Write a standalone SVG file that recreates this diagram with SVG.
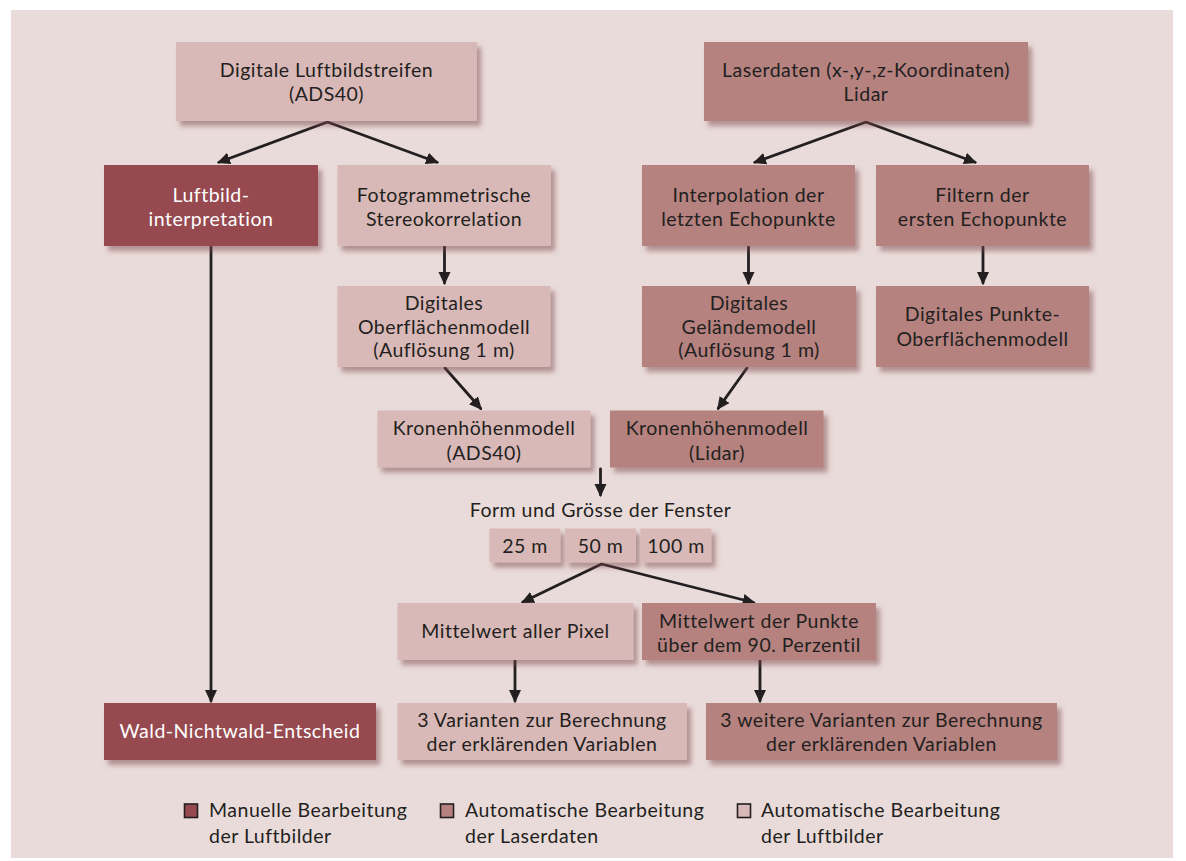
<svg xmlns="http://www.w3.org/2000/svg" width="1186" height="861" viewBox="0 0 1186 861">
<style>
  text { font-family: Lato, "Open Sans", "Liberation Sans", sans-serif; font-size: 19.5px; letter-spacing: 0.5px; fill: #231f20; text-anchor: middle; }
  .w { fill: #ffffff; }
  .lg { text-anchor: start; }
  .light { fill: #d9b9b7; }
  .med { fill: #b5827f; }
  .dark { fill: #964a50; }
  .box { filter: url(#sh); }
  .c line { stroke: #231f20; stroke-width: 2.8; stroke-linecap: round; marker-end: url(#ah); }
  .sq { stroke: #231f20; stroke-width: 1.6; }
</style>
<defs>
  <filter id="sh" x="-10%" y="-20%" width="130%" height="150%">
    <feDropShadow dx="4" dy="5" stdDeviation="2.5" flood-color="#7a4548" flood-opacity="0.5"/>
  </filter>
  <marker id="ah" markerUnits="userSpaceOnUse" markerWidth="14" markerHeight="14" viewBox="0 0 14 14" refX="11" refY="7" orient="auto">
    <path d="M0,1 L13,7 L0,13 Z" fill="#231f20"/>
  </marker>
</defs>
<rect x="0" y="0" width="1186" height="861" fill="#ffffff"/>
<rect x="11" y="10" width="1162" height="848" fill="#e9dbd9"/>

<g id="connectors" class="c">
  <line x1="327.5" y1="122" x2="218.9" y2="162.3"/>
  <line x1="327.5" y1="122" x2="437.1" y2="162.3"/>
  <line x1="866" y1="122" x2="754.9" y2="162.3"/>
  <line x1="866" y1="122" x2="975.1" y2="162.3"/>
  <line x1="211" y1="247" x2="211" y2="701"/>
  <line x1="444.5" y1="247" x2="444.5" y2="283"/>
  <line x1="748.5" y1="247" x2="748.5" y2="283"/>
  <line x1="983" y1="247" x2="983" y2="283"/>
  <line x1="445" y1="368" x2="480.7" y2="408.5"/>
  <line x1="747" y1="368" x2="718.2" y2="408.4"/>
  <line x1="600.5" y1="469" x2="600.5" y2="495"/>
  <line x1="601.5" y1="564" x2="522.8" y2="602.1"/>
  <line x1="601.5" y1="564" x2="753.7" y2="602.5"/>
  <line x1="515" y1="660" x2="515" y2="701"/>
  <line x1="760" y1="660" x2="760" y2="701"/>
</g>

<g id="n-luftbildstreifen">
  <rect class="box light" x="176" y="42" width="301" height="79"/>
  <text x="326.5" y="77">Digitale Luftbildstreifen</text>
  <text x="326.5" y="101">(ADS40)</text>
</g>
<g id="n-luftbildinterpretation">
  <rect class="box dark" x="104" y="165" width="214" height="81"/>
  <text class="w" x="211" y="201.5">Luftbild-</text>
  <text class="w" x="211" y="226">interpretation</text>
</g>
<g id="n-stereokorrelation">
  <rect class="box light" x="337.5" y="165" width="213.5" height="81"/>
  <text x="444" y="201.5">Fotogrammetrische</text>
  <text x="444" y="226">Stereokorrelation</text>
</g>
<g id="n-laserdaten">
  <rect class="box med" x="704" y="42" width="324" height="79"/>
  <text x="866" y="77">Laserdaten (x-,y-,z-Koordinaten)</text>
  <text x="866" y="101">Lidar</text>
</g>
<g id="n-interpolation">
  <rect class="box med" x="642" y="165" width="213" height="81"/>
  <text x="748.5" y="201.5">Interpolation der</text>
  <text x="748.5" y="226">letzten Echopunkte</text>
</g>
<g id="n-filtern">
  <rect class="box med" x="876" y="165" width="213" height="81"/>
  <text x="982.5" y="201.5">Filtern der</text>
  <text x="982.5" y="226">ersten Echopunkte</text>
</g>
<g id="n-dom">
  <rect class="box light" x="337.5" y="286" width="213" height="81"/>
  <text x="444" y="310">Digitales</text>
  <text x="444" y="333.5">Oberflächenmodell</text>
  <text x="444" y="357">(Auflösung 1 m)</text>
</g>
<g id="n-dgm">
  <rect class="box med" x="642" y="286" width="214" height="81"/>
  <text x="749" y="310">Digitales</text>
  <text x="749" y="333.5">Geländemodell</text>
  <text x="749" y="357">(Auflösung 1 m)</text>
</g>
<g id="n-punkte-dom">
  <rect class="box med" x="876" y="286" width="213" height="81"/>
  <text x="982.5" y="321">Digitales Punkte-</text>
  <text x="982.5" y="345.5">Oberflächenmodell</text>
</g>
<g id="n-khm-ads40">
  <rect class="box light" x="377.5" y="410.5" width="213" height="57"/>
  <text x="484" y="435">Kronenhöhenmodell</text>
  <text x="484" y="459.5">(ADS40)</text>
</g>
<g id="n-khm-lidar">
  <rect class="box med" x="610" y="410.5" width="213.5" height="57"/>
  <text x="717" y="435">Kronenhöhenmodell</text>
  <text x="717" y="459.5">(Lidar)</text>
</g>
<g id="n-fenster">
  <text x="600.5" y="517">Form und Grösse der Fenster</text>
</g>
<g id="n-25m">
  <rect class="box light" x="489.5" y="528.5" width="71" height="34"/>
  <text x="525" y="552.5">25 m</text>
</g>
<g id="n-50m">
  <rect class="box light" x="565" y="528.5" width="71" height="34"/>
  <text x="600.5" y="552.5">50 m</text>
</g>
<g id="n-100m">
  <rect class="box light" x="640.5" y="528.5" width="71" height="34"/>
  <text x="676" y="552.5">100 m</text>
</g>
<g id="n-mittel-pixel">
  <rect class="box light" x="397.5" y="603" width="236" height="57"/>
  <text x="515.5" y="638">Mittelwert aller Pixel</text>
</g>
<g id="n-mittel-punkte">
  <rect class="box med" x="642" y="603" width="234" height="57"/>
  <text x="759" y="628">Mittelwert der Punkte</text>
  <text x="759" y="652">über dem 90. Perzentil</text>
</g>
<g id="n-wald">
  <rect class="box dark" x="104" y="703" width="272" height="57"/>
  <text class="w" x="240" y="738">Wald-Nichtwald-Entscheid</text>
</g>
<g id="n-varianten">
  <rect class="box light" x="397.5" y="703" width="289.5" height="57"/>
  <text x="542" y="727">3 Varianten zur Berechnung</text>
  <text x="542" y="751">der erklärenden Variablen</text>
</g>
<g id="n-weitere-varianten">
  <rect class="box med" x="706" y="703" width="351" height="57"/>
  <text x="881.5" y="727">3 weitere Varianten zur Berechnung</text>
  <text x="881.5" y="751">der erklärenden Variablen</text>
</g>

<g id="legend">
  <rect class="sq dark" x="184.5" y="804" width="13" height="13.5"/>
  <text class="lg" x="209" y="817">Manuelle Bearbeitung</text>
  <text class="lg" x="209" y="843">der Luftbilder</text>
  <rect class="sq med" x="440.5" y="804" width="13" height="13.5"/>
  <text class="lg" x="465" y="817">Automatische Bearbeitung</text>
  <text class="lg" x="465" y="843">der Laserdaten</text>
  <rect class="sq light" x="737.5" y="804" width="13" height="13.5"/>
  <text class="lg" x="761" y="817">Automatische Bearbeitung</text>
  <text class="lg" x="761" y="843">der Luftbilder</text>
</g>
</svg>
